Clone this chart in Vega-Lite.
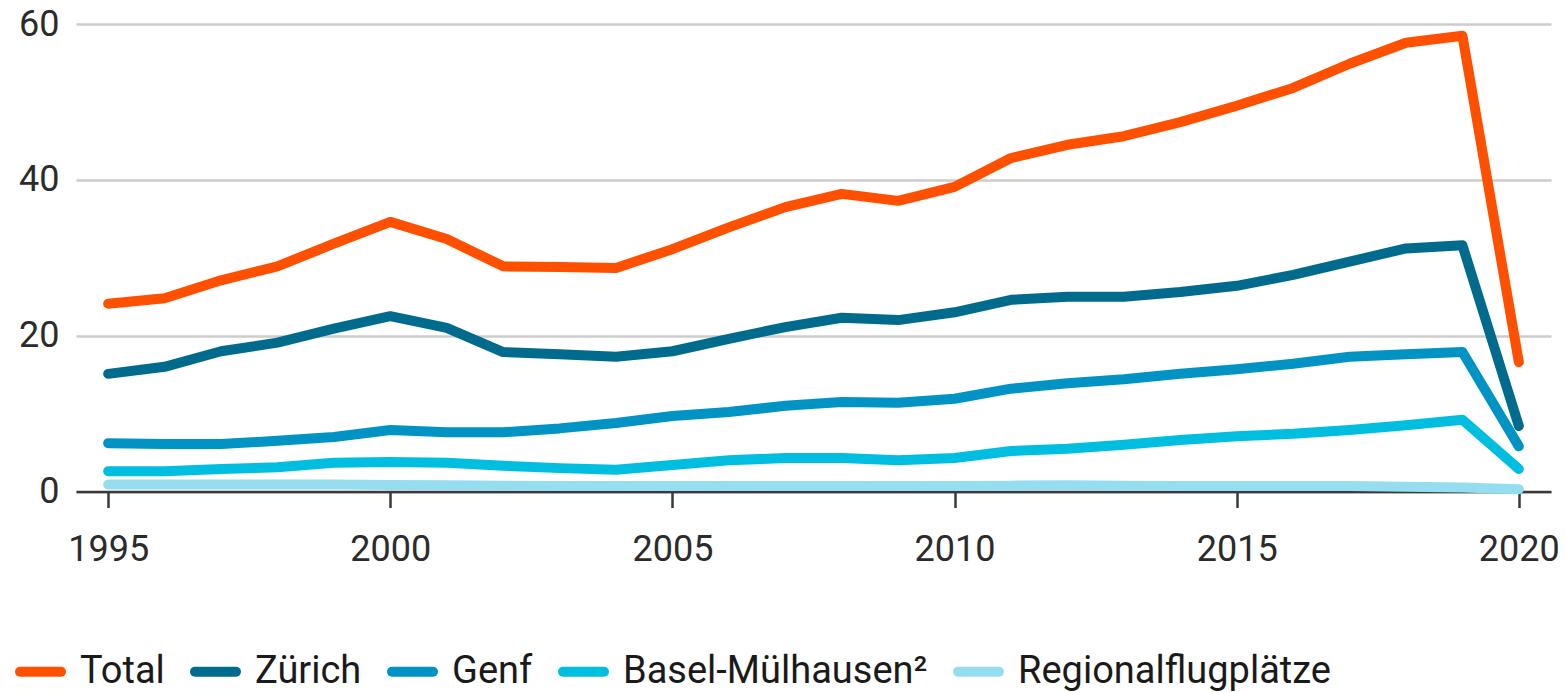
{
  "$schema": "https://vega.github.io/schema/vega-lite/v6.json",
  "autosize": "none",
  "width": 1475,
  "height": 467.5,
  "padding": {"left": 76, "top": 24, "right": 14, "bottom": 200.5},
  "background": "white",
  "config": {
    "view": {"stroke": null},
    "font": "Roboto",
    "axis": {"labelFont": "Roboto", "labelFontSize": 36, "labelColor": "#2b2b2b", "title": null}
  },
  "data": {"values": [
    {"year": 1995, "series": "Total", "value": 24.1},
    {"year": 1996, "series": "Total", "value": 24.8},
    {"year": 1997, "series": "Total", "value": 27.1},
    {"year": 1998, "series": "Total", "value": 28.9},
    {"year": 1999, "series": "Total", "value": 31.8},
    {"year": 2000, "series": "Total", "value": 34.6},
    {"year": 2001, "series": "Total", "value": 32.4},
    {"year": 2002, "series": "Total", "value": 28.9},
    {"year": 2003, "series": "Total", "value": 28.8},
    {"year": 2004, "series": "Total", "value": 28.7},
    {"year": 2005, "series": "Total", "value": 31.1},
    {"year": 2006, "series": "Total", "value": 33.9},
    {"year": 2007, "series": "Total", "value": 36.5},
    {"year": 2008, "series": "Total", "value": 38.2},
    {"year": 2009, "series": "Total", "value": 37.3},
    {"year": 2010, "series": "Total", "value": 39.1},
    {"year": 2011, "series": "Total", "value": 42.8},
    {"year": 2012, "series": "Total", "value": 44.5},
    {"year": 2013, "series": "Total", "value": 45.6},
    {"year": 2014, "series": "Total", "value": 47.4},
    {"year": 2015, "series": "Total", "value": 49.5},
    {"year": 2016, "series": "Total", "value": 51.8},
    {"year": 2017, "series": "Total", "value": 54.9},
    {"year": 2018, "series": "Total", "value": 57.6},
    {"year": 2019, "series": "Total", "value": 58.5},
    {"year": 2020, "series": "Total", "value": 16.6},
    {"year": 1995, "series": "Zürich", "value": 15.1},
    {"year": 1996, "series": "Zürich", "value": 16.0},
    {"year": 1997, "series": "Zürich", "value": 18.0},
    {"year": 1998, "series": "Zürich", "value": 19.1},
    {"year": 1999, "series": "Zürich", "value": 20.9},
    {"year": 2000, "series": "Zürich", "value": 22.5},
    {"year": 2001, "series": "Zürich", "value": 21.0},
    {"year": 2002, "series": "Zürich", "value": 17.9},
    {"year": 2003, "series": "Zürich", "value": 17.6},
    {"year": 2004, "series": "Zürich", "value": 17.3},
    {"year": 2005, "series": "Zürich", "value": 18.0},
    {"year": 2006, "series": "Zürich", "value": 19.6},
    {"year": 2007, "series": "Zürich", "value": 21.1},
    {"year": 2008, "series": "Zürich", "value": 22.3},
    {"year": 2009, "series": "Zürich", "value": 22.0},
    {"year": 2010, "series": "Zürich", "value": 23.0},
    {"year": 2011, "series": "Zürich", "value": 24.6},
    {"year": 2012, "series": "Zürich", "value": 25.0},
    {"year": 2013, "series": "Zürich", "value": 25.0},
    {"year": 2014, "series": "Zürich", "value": 25.6},
    {"year": 2015, "series": "Zürich", "value": 26.4},
    {"year": 2016, "series": "Zürich", "value": 27.8},
    {"year": 2017, "series": "Zürich", "value": 29.5},
    {"year": 2018, "series": "Zürich", "value": 31.2},
    {"year": 2019, "series": "Zürich", "value": 31.6},
    {"year": 2020, "series": "Zürich", "value": 8.4},
    {"year": 1995, "series": "Genf", "value": 6.2},
    {"year": 1996, "series": "Genf", "value": 6.1},
    {"year": 1997, "series": "Genf", "value": 6.1},
    {"year": 1998, "series": "Genf", "value": 6.5},
    {"year": 1999, "series": "Genf", "value": 7.0},
    {"year": 2000, "series": "Genf", "value": 7.9},
    {"year": 2001, "series": "Genf", "value": 7.6},
    {"year": 2002, "series": "Genf", "value": 7.6},
    {"year": 2003, "series": "Genf", "value": 8.1},
    {"year": 2004, "series": "Genf", "value": 8.8},
    {"year": 2005, "series": "Genf", "value": 9.7},
    {"year": 2006, "series": "Genf", "value": 10.2},
    {"year": 2007, "series": "Genf", "value": 11.0},
    {"year": 2008, "series": "Genf", "value": 11.5},
    {"year": 2009, "series": "Genf", "value": 11.4},
    {"year": 2010, "series": "Genf", "value": 11.9},
    {"year": 2011, "series": "Genf", "value": 13.2},
    {"year": 2012, "series": "Genf", "value": 13.9},
    {"year": 2013, "series": "Genf", "value": 14.4},
    {"year": 2014, "series": "Genf", "value": 15.1},
    {"year": 2015, "series": "Genf", "value": 15.7},
    {"year": 2016, "series": "Genf", "value": 16.4},
    {"year": 2017, "series": "Genf", "value": 17.3},
    {"year": 2018, "series": "Genf", "value": 17.6},
    {"year": 2019, "series": "Genf", "value": 17.9},
    {"year": 2020, "series": "Genf", "value": 5.8},
    {"year": 1995, "series": "Basel-Mülhausen²", "value": 2.6},
    {"year": 1996, "series": "Basel-Mülhausen²", "value": 2.6},
    {"year": 1997, "series": "Basel-Mülhausen²", "value": 2.9},
    {"year": 1998, "series": "Basel-Mülhausen²", "value": 3.1},
    {"year": 1999, "series": "Basel-Mülhausen²", "value": 3.7},
    {"year": 2000, "series": "Basel-Mülhausen²", "value": 3.8},
    {"year": 2001, "series": "Basel-Mülhausen²", "value": 3.7},
    {"year": 2002, "series": "Basel-Mülhausen²", "value": 3.3},
    {"year": 2003, "series": "Basel-Mülhausen²", "value": 3.0},
    {"year": 2004, "series": "Basel-Mülhausen²", "value": 2.8},
    {"year": 2005, "series": "Basel-Mülhausen²", "value": 3.4},
    {"year": 2006, "series": "Basel-Mülhausen²", "value": 4.0},
    {"year": 2007, "series": "Basel-Mülhausen²", "value": 4.3},
    {"year": 2008, "series": "Basel-Mülhausen²", "value": 4.3},
    {"year": 2009, "series": "Basel-Mülhausen²", "value": 4.0},
    {"year": 2010, "series": "Basel-Mülhausen²", "value": 4.3},
    {"year": 2011, "series": "Basel-Mülhausen²", "value": 5.2},
    {"year": 2012, "series": "Basel-Mülhausen²", "value": 5.5},
    {"year": 2013, "series": "Basel-Mülhausen²", "value": 6.0},
    {"year": 2014, "series": "Basel-Mülhausen²", "value": 6.6},
    {"year": 2015, "series": "Basel-Mülhausen²", "value": 7.1},
    {"year": 2016, "series": "Basel-Mülhausen²", "value": 7.4},
    {"year": 2017, "series": "Basel-Mülhausen²", "value": 7.9},
    {"year": 2018, "series": "Basel-Mülhausen²", "value": 8.5},
    {"year": 2019, "series": "Basel-Mülhausen²", "value": 9.2},
    {"year": 2020, "series": "Basel-Mülhausen²", "value": 2.9},
    {"year": 1995, "series": "Regionalflugplätze", "value": 0.9},
    {"year": 1996, "series": "Regionalflugplätze", "value": 0.9},
    {"year": 1997, "series": "Regionalflugplätze", "value": 0.9},
    {"year": 1998, "series": "Regionalflugplätze", "value": 0.9},
    {"year": 1999, "series": "Regionalflugplätze", "value": 0.9},
    {"year": 2000, "series": "Regionalflugplätze", "value": 0.85},
    {"year": 2001, "series": "Regionalflugplätze", "value": 0.8},
    {"year": 2002, "series": "Regionalflugplätze", "value": 0.75},
    {"year": 2003, "series": "Regionalflugplätze", "value": 0.7},
    {"year": 2004, "series": "Regionalflugplätze", "value": 0.7},
    {"year": 2005, "series": "Regionalflugplätze", "value": 0.7},
    {"year": 2006, "series": "Regionalflugplätze", "value": 0.7},
    {"year": 2007, "series": "Regionalflugplätze", "value": 0.7},
    {"year": 2008, "series": "Regionalflugplätze", "value": 0.7},
    {"year": 2009, "series": "Regionalflugplätze", "value": 0.7},
    {"year": 2010, "series": "Regionalflugplätze", "value": 0.7},
    {"year": 2011, "series": "Regionalflugplätze", "value": 0.75},
    {"year": 2012, "series": "Regionalflugplätze", "value": 0.8},
    {"year": 2013, "series": "Regionalflugplätze", "value": 0.75},
    {"year": 2014, "series": "Regionalflugplätze", "value": 0.7},
    {"year": 2015, "series": "Regionalflugplätze", "value": 0.7},
    {"year": 2016, "series": "Regionalflugplätze", "value": 0.7},
    {"year": 2017, "series": "Regionalflugplätze", "value": 0.7},
    {"year": 2018, "series": "Regionalflugplätze", "value": 0.6},
    {"year": 2019, "series": "Regionalflugplätze", "value": 0.5},
    {"year": 2020, "series": "Regionalflugplätze", "value": 0.3}
  ]},
  "mark": {"type": "line", "strokeWidth": 10, "strokeCap": "round", "strokeJoin": "round"},
  "encoding": {
    "x": {
      "field": "year", "type": "quantitative",
      "scale": {"domain": [1994.43, 2020.57], "nice": false, "zero": false},
      "axis": {
        "values": [1995, 2000, 2005, 2010, 2015, 2020], "format": "d",
        "grid": false, "domainColor": "#3a3a3a", "domainWidth": 2.5,
        "tickColor": "#3a3a3a", "tickWidth": 2.5, "tickSize": 16,
        "labelPadding": 25, "labelFlush": false
      }
    },
    "y": {
      "field": "value", "type": "quantitative",
      "scale": {"domain": [0, 60], "nice": false},
      "axis": {
        "values": [0, 20, 40, 60], "grid": true, "gridColor": "#cccccc", "gridWidth": 2.5,
        "domain": false, "ticks": false, "labelPadding": 17
      }
    },
    "color": {
      "field": "series", "type": "nominal",
      "scale": {
        "domain": ["Total", "Zürich", "Genf", "Basel-Mülhausen²", "Regionalflugplätze"],
        "range": ["#ff5000", "#006b8c", "#0093c4", "#00bee0", "#96deef"]
      },
      "legend": {
        "orient": "none", "legendX": -61, "legendY": 622, "direction": "horizontal",
        "title": null, "symbolType": "stroke", "symbolStrokeWidth": 10, "symbolSize": 1681,
        "labelFont": "Roboto", "labelFontSize": 38, "labelColor": "#1a1a1a", "labelLimit": 1000,
        "labelOffset": 14, "columnPadding": 10,
        "encode": {"symbols": {"update": {"strokeCap": {"value": "round"}}}}
      }
    },
    "order": {"field": "series"}
  }
}
